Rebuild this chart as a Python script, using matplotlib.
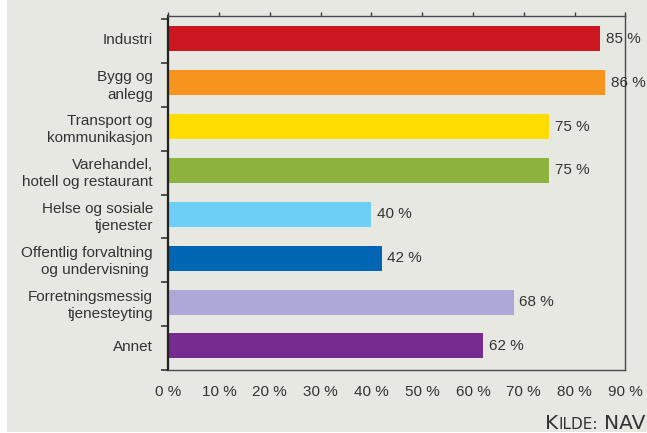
import matplotlib.pyplot as plt
import numpy as np
from matplotlib.patches import Rectangle
from matplotlib.offsetbox import TextArea, HPacker, AnchoredOffsetbox

# Andel per næring (prosent)
categories = ['Industri', 'Bygg og\nanlegg', 'Transport og\nkommunikasjon',
              'Varehandel,\nhotell og restaurant', 'Helse og sosiale\ntjenester',
              'Offentlig forvaltning\nog undervisning\u00a0', 'Forretningsmessig\ntjenesteyting',
              'Annet']
values = [85, 86, 75, 75, 40, 42, 68, 62]
colors = ['#cc1720', '#f7941d', '#ffdd00', '#8db33e', '#6dcff6', '#0066b3', '#aea8d6', '#772a8f']
xticks = list(range(0, 100, 10))

plt.rcParams['font.family'] = ['Liberation Sans', 'DejaVu Sans']
txt = '#333333'
bg = '#e8e8e3'

fig = plt.figure(figsize=(6.47, 4.33), dpi=100, facecolor='white')
fig.patches.append(Rectangle((7 / 647, 1 / 433), 1, 1, transform=fig.transFigure,
                             facecolor=bg, edgecolor='none', zorder=-10))
ax = fig.add_axes([0.260, 0.1455, 0.7066, 0.8175])
ax.set_facecolor(bg)

y = np.arange(len(categories))
ax.barh(y, values, height=0.57, color=colors)
for yi, v in zip(y, values):
    ax.text(v + 1.1, yi, f'{v} %', va='center', ha='left', fontsize=11, color=txt)

ax.set_xlim(0, 90)
ax.set_ylim(len(categories) - 0.477, -0.523)

ax.set_xticks(xticks)
ax.set_xticklabels([f'{t} %' for t in xticks], fontsize=11, color=txt)
ax.tick_params(axis='x', top=True, bottom=False, labeltop=False, labelbottom=True,
               direction='out', length=3, width=1, color='#3c3c3c', pad=8)

ax.set_yticks(y)
ax.set_yticklabels(categories, fontsize=11, color=txt, ha='right', linespacing=1.3)
ax.set_yticks(np.arange(-0.5, len(categories) + 0.5, 1.0) + 0.05, minor=True)
ax.tick_params(axis='y', which='major', length=0, pad=11)
ax.tick_params(axis='y', which='minor', length=5, width=1.2, color='#333333')

for side in ['top', 'bottom', 'right']:
    ax.spines[side].set_color('#4a4a4a')
    ax.spines[side].set_linewidth(1.0)
ax.spines['left'].set_color('#222222')
ax.spines['left'].set_linewidth(1.6)

# kildetekst med små kapitéler
narrow = 'Liberation Sans Narrow'
kilde = HPacker(children=[
    TextArea('K', textprops=dict(fontsize=14.5, color=txt, family=narrow)),
    TextArea('ILDE:', textprops=dict(fontsize=11, color=txt, family=narrow)),
], align='baseline', pad=0, sep=0)
box = HPacker(children=[kilde,
                        TextArea('NAV', textprops=dict(fontsize=14.5, color=txt, family=narrow))],
              align='baseline', pad=0, sep=4)
anch = AnchoredOffsetbox(loc='lower right', child=box, frameon=False, pad=0,
                         bbox_to_anchor=(645 / 647, 0), bbox_transform=fig.transFigure,
                         borderpad=0)
fig.add_artist(anch)

fig.savefig('out.png', dpi=100, facecolor=fig.get_facecolor())
